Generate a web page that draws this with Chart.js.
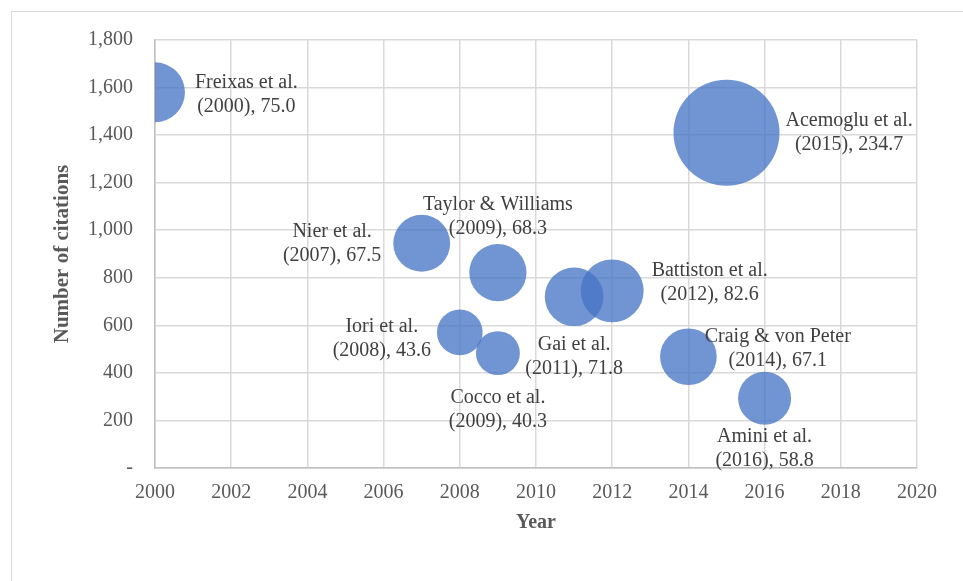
<!DOCTYPE html>
<html>
<head>
<meta charset="utf-8">
<script src="https://cdn.jsdelivr.net/npm/chart.js@4.4.1/dist/chart.umd.min.js"></script>
<style>
    body { margin: 0; background: #fff; }
    #wrap { position: relative; width: 963px; height: 581px; overflow: hidden; }
    #frame { position: absolute; left: 11px; top: 11px; width: 1000px; height: 600px; border: 1px solid #d9d9d9; pointer-events: none; }
</style>
</head>
<body>
<div id="wrap">
    <canvas id="chart" width="963" height="581"></canvas>
    <div id="frame"></div>
</div>
<script>
// Data
const authors = ['Freixas et al.', 'Acemoglu et al.', 'Nier et al.', 'Taylor & Williams', 'Battiston et al.',
                 'Gai et al.', 'Iori et al.', 'Cocco et al.', 'Craig & von Peter', 'Amini et al.'];
const years = [2000, 2015, 2007, 2009, 2012, 2011, 2008, 2009, 2014, 2016];
const citations = [1580, 1410, 945, 822, 745, 720, 570, 483, 468, 293];
const citesPerYear = [75.0, 234.7, 67.5, 68.3, 82.6, 71.8, 43.6, 40.3, 67.1, 58.8];

const xTicks = [2000, 2020, 2]; // min, max, step
const yTicks = [0, 1800, 200];

// Where each label sits relative to its bubble (Excel placement)
const labelPos = ['right', 'right', 'left', 'above', 'right', 'below', 'left', 'below', 'right', 'below'];
const labelShift = [[2, 2], [-2, 0], [-4, 0], [0, 5], [0, -8], [0, -1], [2, 6], [0, 3], [-20, -8], [0, -8]];

const serif = '"Liberation Serif", "DejaVu Serif", serif';
const bubbleScale = 3.46; // px of radius per sqrt(size), bubbles sized by area

// Draws the two line labels next to each bubble
const bubbleLabels = {
    id: 'bubbleLabels',
    afterDatasetsDraw(chart) {
        const ctx = chart.ctx;
        const meta = chart.getDatasetMeta(0);
        ctx.save();
        ctx.font = '20px ' + serif;
        ctx.fillStyle = '#404040';
        ctx.textAlign = 'center';
        ctx.textBaseline = 'middle';
        const lh = 24;
        meta.data.forEach((el, i) => {
            const lines = [authors[i], '(' + years[i] + '), ' + citesPerYear[i].toFixed(1)];
            const w = Math.max(...lines.map(l => ctx.measureText(l).width));
            const r = el.options.radius;
            let cx = el.x, cy = el.y;
            const gap = 8;
            if (labelPos[i] === 'right') cx = el.x + r + gap + w / 2;
            if (labelPos[i] === 'left') cx = el.x - r - gap - w / 2;
            if (labelPos[i] === 'above') cy = el.y - r - gap - lh;
            if (labelPos[i] === 'below') cy = el.y + r + gap + lh;
            cx += labelShift[i][0];
            cy += labelShift[i][1];
            ctx.fillText(lines[0], cx, cy - lh / 2);
            ctx.fillText(lines[1], cx, cy + lh / 2);
        });
        ctx.restore();
    }
};

const ctx = document.getElementById('chart').getContext('2d');

const chart = new Chart(ctx, {
    type: 'bubble',
    data: {
        datasets: [{
            data: years.map((y, i) => ({ x: y, y: citations[i], r: bubbleScale * Math.sqrt(citesPerYear[i]) })),
            backgroundColor: 'rgba(68, 114, 196, 0.76)',
            borderWidth: 0
        }]
    },
    options: {
        responsive: false,
        animation: false,
        events: [],
        // autoPadding off, otherwise the biggest bubble radius gets added around the plot
        layout: { autoPadding: false, padding: { left: 0, top: 40, right: 46, bottom: 0 } },
        plugins: {
            legend: { display: false },
            tooltip: { enabled: false }
        },
        scales: {
            x: {
                type: 'linear',
                min: xTicks[0],
                max: xTicks[1],
                ticks: {
                    stepSize: xTicks[2],
                    padding: 13,
                    color: '#595959',
                    font: { family: serif, size: 20 },
                    maxRotation: 0,
                    callback: v => String(v)
                },
                grid: { color: '#d9d9d9', lineWidth: 1.5, drawTicks: false },
                border: { color: '#bfbfbf', width: 1.5 },
                title: {
                    display: true,
                    text: 'Year',
                    color: '#595959',
                    font: { family: serif, size: 20, weight: 'bold' },
                    padding: { top: 0, bottom: 46 }
                },
                afterFit: scale => {
                    scale.height = 113;
                    scale.paddingLeft = 0;
                    scale.paddingRight = 0;
                }
            },
            y: {
                min: yTicks[0],
                max: yTicks[1],
                ticks: {
                    stepSize: yTicks[2],
                    padding: 22,
                    color: '#595959',
                    font: { family: serif, size: 20 },
                    callback: v => v === 0 ? '-' : v.toLocaleString('en-US')
                },
                grid: { color: '#d9d9d9', lineWidth: 1.5, drawTicks: false },
                border: { color: '#bfbfbf', width: 1.5 },
                title: {
                    display: true,
                    text: 'Number of citations',
                    color: '#595959',
                    font: { family: serif, size: 21, weight: 'bold' },
                    padding: { top: 50, bottom: 0 }
                },
                afterFit: scale => {
                    scale.width = 155;
                    scale.paddingTop = 0;
                    scale.paddingBottom = 0;
                }
            }
        }
    },
    plugins: [bubbleLabels]
});
</script>
</body>
</html>
